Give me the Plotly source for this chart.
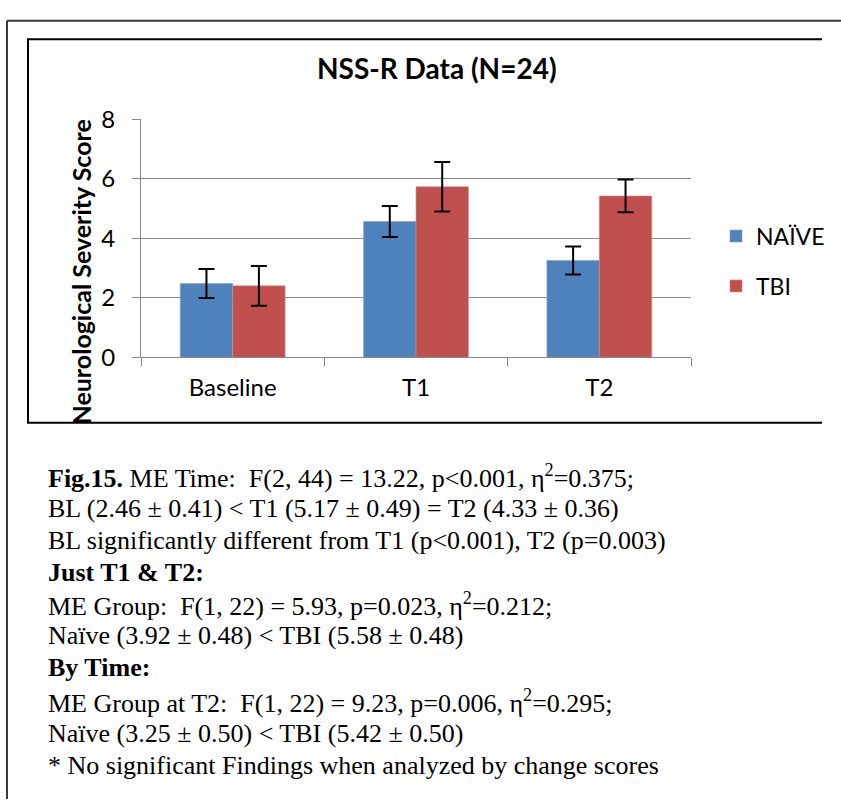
import plotly.graph_objects as go

categories = ["Baseline", "T1", "T2"]
naive_means = [2.48, 4.56, 3.25]
naive_err = [0.49, 0.52, 0.47]
tbi_means = [2.40, 5.73, 5.42]
tbi_err = [0.67, 0.83, 0.55]
y_ticks = [0, 2, 4, 6, 8]

chart_title = "<b>NSS-R Data (N=24)</b>"
y_title = "<b>Neurological Severity Score</b>"
caption_lines = [
    "<b>Fig.15.</b> ME Time:  F(2, 44) = 13.22, p&lt;0.001, η<sup>2</sup>=0.375;",
    "BL (2.46 ± 0.41) &lt; T1 (5.17 ± 0.49) = T2 (4.33 ± 0.36)",
    "BL significantly different from T1 (p&lt;0.001), T2 (p=0.003)",
    "<b>Just T1 &amp; T2:</b>",
    "ME Group:  F(1, 22) = 5.93, p=0.023, η<sup>2</sup>=0.212;",
    "Naïve (3.92 ± 0.48) &lt; TBI (5.58 ± 0.48)",
    "<b>By Time:</b>",
    "ME Group at T2:  F(1, 22) = 9.23, p=0.006, η<sup>2</sup>=0.295;",
    "Naïve (3.25 ± 0.50) &lt; TBI (5.42 ± 0.50)",
    "* No significant Findings when analyzed by change scores",
]
caption_y = [478, 511, 544, 577, 610, 643, 676, 711, 744, 777]

W, H = 841, 809
def px(x):
    return x / W
def py(y):
    return 1 - y / H

SANS = "Lato, Carlito, Calibri, sans-serif"
SERIF = "Liberation Serif, Times New Roman, serif"
GRID = "#868686"

fig = go.Figure()
fig.add_trace(go.Bar(
    name="NAÏVE", x=categories, y=naive_means, legendgroup="a",
    marker=dict(color="#4F81BD", line=dict(color="#7FA3D1", width=0.6)),
    error_y=dict(type="data", array=naive_err, color="black", thickness=2, width=8),
))
fig.add_trace(go.Bar(
    name="TBI", x=categories, y=tbi_means, legendgroup="b",
    marker=dict(color="#C0504D", line=dict(color="#D58A88", width=0.6)),
    error_y=dict(type="data", array=tbi_err, color="black", thickness=2, width=8),
))

fig.update_layout(
    width=W, height=H,
    margin=dict(l=0, r=0, t=0, b=0),
    paper_bgcolor="white", plot_bgcolor="white",
    barmode="group", bargap=0.428, bargroupgap=0,
    showlegend=True,
    legend=dict(x=px(716), y=py(206), xanchor="left", yanchor="top",
                font=dict(family=SANS, size=23, color="black"),
                tracegroupgap=17, bgcolor="rgba(0,0,0,0)", itemwidth=30),
    xaxis=dict(domain=[px(141), px(691)], showline=True, linecolor=GRID, linewidth=1,
               ticks="outside", tickson="boundaries", ticklen=8, tickcolor=GRID,
               tickfont=dict(family=SANS, size=24, color="black"),
               ticklabelstandoff=9, showgrid=False),
    yaxis=dict(domain=[py(354), py(107)], range=[0, 8], tickvals=y_ticks,
               showgrid=True, gridcolor=GRID, gridwidth=1, zeroline=False,
               showline=True, linecolor=GRID, linewidth=1,
               ticks="outside", ticklen=8, tickcolor=GRID,
               tickfont=dict(family=SANS, size=24, color="black"),
               ticklabelstandoff=12),
)

annotations = [
    dict(text=chart_title, x=px(437), y=py(54), xref="paper", yref="paper",
         xanchor="center", yanchor="middle", showarrow=False,
         font=dict(family=SANS, size=28, color="black")),
    dict(text=y_title, x=px(81), y=py(266), xref="paper", yref="paper",
         xanchor="center", yanchor="middle", showarrow=False, textangle=-90,
         font=dict(family=SANS, size=25, color="black")),
]
for t, yy in zip(caption_lines, caption_y):
    annotations.append(dict(text=t, x=px(46), y=py(yy), xref="paper", yref="paper",
                            xanchor="left", yanchor="middle", showarrow=False, align="left",
                            font=dict(family=SERIF, size=26, color="black")))
fig.update_layout(annotations=annotations)

shapes = [
    # outer frame
    dict(type="line", xref="paper", yref="paper", x0=px(7), x1=px(845), y0=py(5), y1=py(5),
         line=dict(color="#3a3a3a", width=2)),
    dict(type="line", xref="paper", yref="paper", x0=px(7), x1=px(7), y0=py(5), y1=py(812),
         line=dict(color="#3a3a3a", width=2)),
    # inner chart box (open at right)
    dict(type="path", xref="paper", yref="paper",
         path=f"M {px(822)},{py(24)} L {px(28)},{py(24)} L {px(28)},{py(422)} L {px(822)},{py(422)}",
         line=dict(color="black", width=2)),
]
fig.update_layout(shapes=shapes)

fig.write_html("out.html")
